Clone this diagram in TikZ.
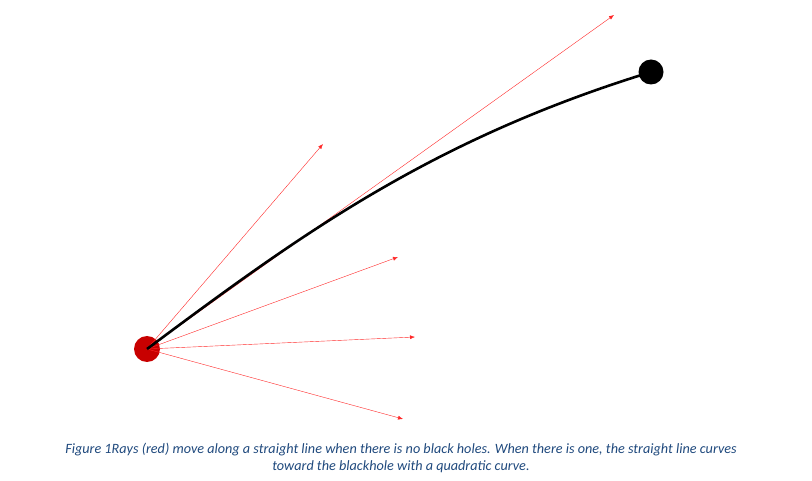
\documentclass[tikz,border=0pt]{standalone}
\usepackage{fontspec}
\setmainfont{Carlito}
\usetikzlibrary{arrows.meta}
\definecolor{capblue}{RGB}{31,73,125}
\definecolor{rayred}{RGB}{255,40,40}
\definecolor{dotred}{RGB}{200,0,0}
\begin{document}
\begin{tikzpicture}[x=1pt,y=-1pt]
\tikzstyle{source} = [circle, fill=dotred, minimum size=26pt, inner sep=0pt]
\tikzstyle{hole} = [circle, fill=black, minimum size=25pt, inner sep=0pt]
\tikzstyle{ray} = [draw=rayred, line width=0.4pt, -{Latex[length=5pt,width=4pt]}]
\tikzstyle{path} = [draw=black, line width=2.6pt]

\useasboundingbox (0,0) rectangle (812,481);

\node[source] (S) at (147,349) {};
\node[hole] (B) at (651,72) {};

\coordinate (R1) at (614,15);
\coordinate (R2) at (323,144);
\coordinate (R3) at (398,257);
\coordinate (R4) at (415,337);
\coordinate (R5) at (403,419);

\draw[ray] (S.center) -- (R1);
\draw[ray] (S.center) -- (R2);
\draw[ray] (S.center) -- (R3);
\draw[ray] (S.center) -- (R4);
\draw[ray] (S.center) -- (R5);

\draw[path] (S.center) .. controls (300,235) and (430,140) .. (B.center);

\node[text=capblue, font=\itshape\fontsize{14.2}{17}\selectfont, align=center] (cap) at (401,458)
  {Figure 1Rays (red) move along a straight line when there is no black holes. When there is one, the straight line curves\\
   toward the blackhole with a quadratic curve.};
\end{tikzpicture}
\end{document}
